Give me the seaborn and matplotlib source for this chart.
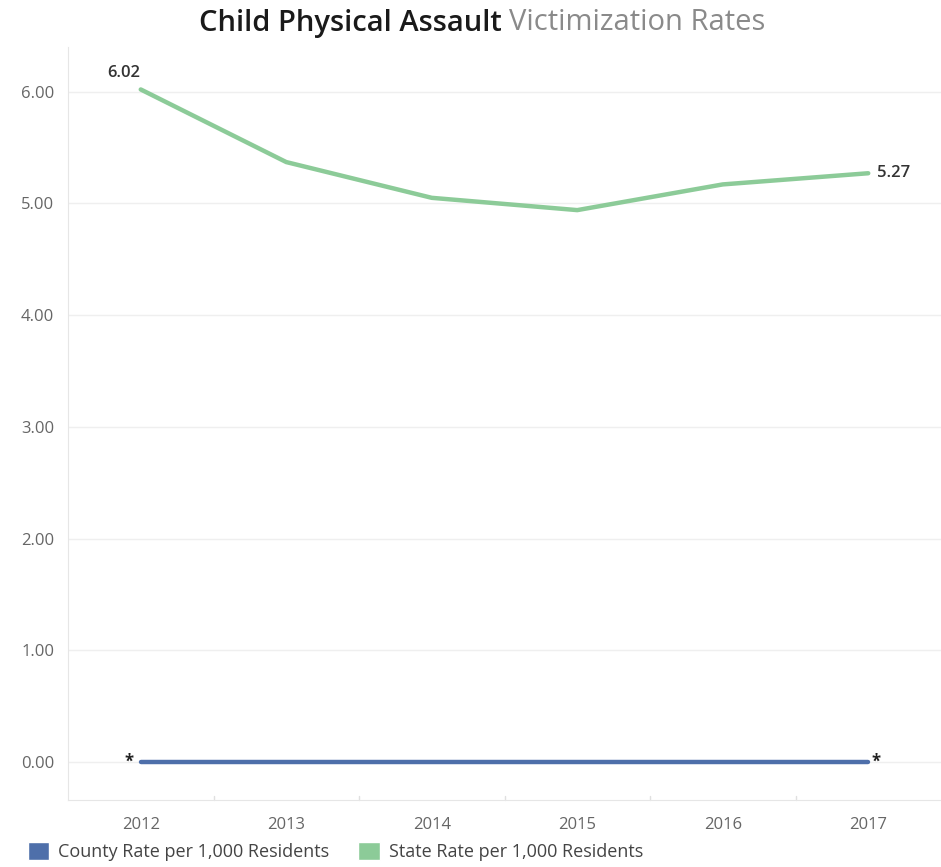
import pandas as pd
import seaborn as sns
from matplotlib import pyplot as plt
from matplotlib.patches import Patch

years = ["2012", "2013", "2014", "2015", "2016", "2017"]
county_rate = [0, 0, 0, 0, 0, 0]
state_rate = [6.02, 5.37, 5.05, 4.94, 5.17, 5.27]
county_name = "County Rate per 1,000 Residents"
state_name = "State Rate per 1,000 Residents"

blue = "#4e6faa"
green = "#8ccb98"

df = pd.DataFrame({"year": years * 2,
                   "rate": county_rate + state_rate,
                   "series": [county_name] * 6 + [state_name] * 6})

sns.set_style("white")
plt.rcParams["font.family"] = ["Open Sans", "DejaVu Sans"]

fig = plt.figure(figsize=(9.41, 8.67), dpi=100)
ax = fig.add_axes([68 / 941, 1 - 800 / 867, 873 / 941, 753 / 867])

sns.lineplot(data=df, x="year", y="rate", hue="series",
             palette=[blue, green], linewidth=3.2, legend=False, ax=ax,
             sort=False)

ax.set_xlim(-0.5, 5.5)
ax.set_ylim(-0.34, 6.4)
ax.set_yticks([0, 1, 2, 3, 4, 5, 6])
ax.set_yticklabels([f"{v:.2f}" for v in [0, 1, 2, 3, 4, 5, 6]])
ax.set_xlabel("")
ax.set_ylabel("")
ax.grid(axis="y", color="#efefef", linewidth=1)
ax.grid(axis="x", visible=False)
for s in ["top", "right"]:
    ax.spines[s].set_visible(False)
ax.spines["left"].set_color("#e6e6e6")
ax.spines["bottom"].set_color("#e6e6e6")
ax.tick_params(axis="both", colors="#666666", labelsize=12, length=0)
ax.tick_params(axis="y", pad=10)
ax.tick_params(axis="x", pad=12)
# small separators on the x axis between categories
for b in [0.5, 1.5, 2.5, 3.5, 4.5]:
    ax.plot([b, b], [-0.34, -0.30], color="#e0e0e0", lw=1, clip_on=False)

ax.text(0, state_rate[0] + 0.08, f"{state_rate[0]:.2f}", ha="right", va="bottom",
        fontsize=12, color="#333333", fontweight="semibold")
ax.text(5.06, state_rate[-1], f"{state_rate[-1]:.2f}", ha="left", va="center",
        fontsize=12, color="#333333", fontweight="semibold")
ax.text(-0.08, county_rate[0], "*", ha="center", va="center", fontsize=12,
        color="#222222", fontweight="bold")
ax.text(5.05, county_rate[-1], "*", ha="center", va="center", fontsize=12,
        color="#222222", fontweight="bold")

# two-tone title, centred at x ~ 482 px
ty = 1 - 23 / 867
t1 = fig.text(0, ty, "Child Physical Assault ", ha="left", va="center",
              fontsize=21, color="#1a1a1a", fontweight="semibold")
t2 = fig.text(0, ty, "Victimization Rates", ha="left", va="center",
              fontsize=21, color="#8a8a8a")
r = fig.canvas.get_renderer()
w1 = t1.get_window_extent(r).width
w2 = t2.get_window_extent(r).width
x0 = 482 - (w1 + w2) / 2
t1.set_x(x0 / 941)
t2.set_x((x0 + w1) / 941)

handles = [Patch(facecolor=blue, label=county_name), Patch(facecolor=green, label=state_name)]
leg = fig.legend(handles=handles, loc="lower left", bbox_to_anchor=(0.012, -0.012), ncol=2,
                 frameon=False, fontsize=13, handlelength=1.2, handleheight=1.1,
                 handletextpad=0.5, columnspacing=1.6)
for t in leg.get_texts():
    t.set_color("#444444")

fig.savefig("out.png", dpi=100)
